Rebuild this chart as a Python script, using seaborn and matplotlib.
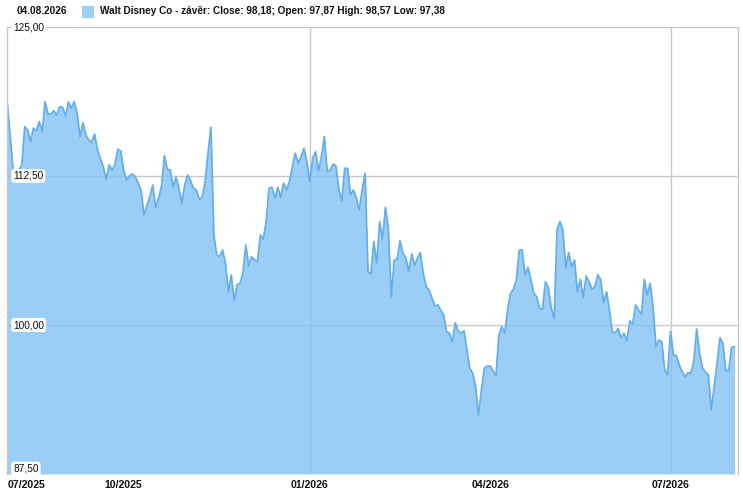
import matplotlib
matplotlib.use("Agg")
import matplotlib.pyplot as plt
import seaborn as sns
import pandas as pd
from matplotlib.patches import Rectangle

# ---- data (trading-day index, close) ----
day = [0, 2, 4, 5, 6, 7, 8, 9, 10, 11, 12, 13, 14, 15, 16, 17, 18, 19, 20, 21,
       22, 23, 24, 25, 26, 27, 28, 29, 30, 31, 33, 34, 35, 36, 37, 38, 39, 40, 41, 42,
       43, 44, 46, 47, 49, 50, 51, 52, 53, 54, 55, 56, 57, 58, 59, 60, 61, 62, 63, 64,
       65, 66, 67, 68, 69, 70, 71, 72, 73, 74, 75, 76, 77, 78, 79, 80, 81, 82, 83, 84,
       85, 86, 87, 88, 89, 90, 91, 92, 93, 94, 95, 96, 97, 98, 99, 100, 101, 102, 103, 104,
       105, 106, 107, 108, 109, 110, 111, 112, 113, 114, 115, 116, 117, 118, 119, 120, 121, 122, 123, 124,
       125, 126, 127, 128, 129, 130, 131, 132, 133, 134, 135, 136, 137, 138, 139, 140, 141, 142, 143, 144,
       145, 146, 147, 148, 149, 150, 151, 152, 153, 154, 155, 156, 157, 158, 159, 160, 161, 162, 163, 164,
       165, 166, 167, 168, 169, 170, 171, 172, 173, 174, 175, 176, 177, 178, 179, 180, 181, 182, 183, 184,
       185, 186, 187, 188, 189, 190, 191, 192, 193, 194, 195, 196, 197, 198, 199, 200, 201, 202, 203, 204,
       205, 206, 207, 208, 209, 210, 211, 212, 213, 214, 215, 216, 217, 218, 219, 220, 221, 222, 223, 224,
       225, 226, 227, 228, 229, 230, 231, 232, 233, 234, 235, 236, 237, 238, 239, 240, 241, 242, 243, 244,
       245, 246, 247, 248, 249, 250]
close = [118.60, 113.00, 113.00, 113.42, 116.64, 116.36, 115.38, 116.50, 116.30, 117.06,
         116.22, 118.73, 117.70, 117.70, 117.98, 117.62, 118.31, 118.26, 117.53, 118.71,
         118.18, 118.73, 117.76, 115.80, 116.97, 115.94, 115.52, 115.30, 116.02, 114.68,
         113.28, 112.22, 113.42, 113.00, 113.42, 114.74, 114.60, 113.00, 112.16, 112.50,
         112.67, 112.44, 111.33, 109.23, 110.76, 111.74, 109.87, 110.63, 111.60, 114.20,
         113.06, 113.00, 111.60, 112.39, 111.47, 110.21, 111.74, 112.58, 112.11, 111.47,
         111.33, 110.55, 110.71, 112.02, 114.40, 116.59, 107.55, 105.87, 105.73, 106.29,
         105.18, 102.79, 104.19, 102.04, 103.36, 103.50, 104.34, 106.71, 104.95, 105.73,
         105.45, 105.31, 107.55, 107.19, 108.67, 111.47, 111.55, 110.63, 111.55, 110.71,
         111.89, 111.33, 112.02, 113.28, 114.40, 113.56, 114.12, 114.82, 113.70, 112.02,
         113.98, 114.54, 112.92, 114.12, 115.80, 112.86, 113.00, 113.51, 113.34, 111.33,
         110.43, 113.15, 113.15, 110.91, 111.33, 110.63, 109.65, 111.33, 112.73, 104.47,
         104.28, 106.99, 105.18, 108.67, 107.19, 109.87, 108.11, 102.37, 105.45, 105.51,
         107.05, 106.02, 105.65, 104.47, 105.96, 105.03, 105.60, 106.07, 104.34, 103.22,
         102.94, 102.24, 101.59, 101.68, 101.26, 100.84, 99.44, 99.30, 98.60, 100.19,
         99.52, 99.30, 99.52, 97.90, 96.37, 95.95, 94.82, 92.45, 94.55, 96.37,
         96.56, 96.56, 96.14, 95.72, 99.16, 99.86, 99.30, 101.26, 102.66, 102.99,
         103.78, 106.29, 106.29, 104.19, 104.84, 103.78, 102.66, 102.37, 101.40, 101.32,
         103.63, 103.13, 101.40, 100.56, 108.00, 108.67, 107.97, 104.76, 106.07, 104.89,
         105.45, 102.79, 103.83, 102.32, 104.11, 103.63, 102.99, 103.21, 104.22, 103.78,
         101.87, 102.79, 101.26, 99.39, 99.35, 99.72, 98.91, 99.30, 98.68, 100.34,
         100.08, 101.68, 101.26, 100.90, 103.83, 102.52, 103.50, 101.54, 98.18, 98.74,
         98.60, 96.23, 95.81, 99.44, 97.48, 97.42, 96.64, 96.08, 95.66, 96.00,
         95.95, 96.92, 99.66, 97.63, 96.37, 96.08, 95.81, 92.87, 94.82, 96.79,
         98.94, 98.47, 96.17, 96.17, 98.13, 98.18]

month_ticks = [0, 40, 104, 166, 228]
month_labels = ["07/2025", "10/2025", "01/2026", "04/2026", "07/2026"]
grid_months = [104, 228]
y_ticks = [87.5, 100.0, 112.5, 125.0]

date_text = "04.08.2026"
legend_text = "Walt Disney Co - závěr: Close: 98,18; Open: 97,87 High: 98,57 Low: 97,38"

df = pd.DataFrame({"day": day, "close": close})

sns.set_theme(style="white")
plt.rcParams["font.family"] = ["Liberation Sans", "DejaVu Sans"]

FILL = "#82C2F4"
LEG_FILL = "#9BCEF6"
LINE = "#66AEEA"
GRID = "#C8C8C8"

fig = plt.figure(figsize=(7.43, 4.91), dpi=100)
ax = fig.add_axes([7 / 743, 17 / 491, 731 / 743, 447 / 491])

ax.fill_between(df["day"], df["close"], 87.5, color=FILL, alpha=0.8, lw=0, zorder=1)
sns.lineplot(data=df, x="day", y="close", ax=ax, color=LINE, lw=1.3, zorder=2)

ax.set_xlim(-0.1, 251.2)
ax.set_ylim(87.5, 125)
ax.set_xlabel("")
ax.set_ylabel("")

ax.set_yticks(y_ticks)
ax.set_yticklabels([])
ax.tick_params(axis="y", length=0)
for yv in y_ticks:
    ax.axhline(yv, color=GRID, lw=1, zorder=0.5)
for xv in grid_months:
    ax.axvline(xv, color=GRID, lw=1, zorder=0.5)

ax.set_xticks(month_ticks)
ax.set_xticklabels(month_labels, fontsize=7.6, fontweight="bold", color="#111111")
ax.tick_params(axis="x", length=0, pad=4)
lbls = ax.get_xticklabels()
lbls[0].set_horizontalalignment("left")

for s in ["top", "bottom"]:
    ax.spines[s].set_visible(False)
for s in ["left", "right"]:
    ax.spines[s].set_color(GRID)
    ax.spines[s].set_linewidth(1)

for yv in y_ticks:
    txt = f"{yv:.2f}".replace(".", ",")
    off = 0.45 if yv == 87.5 else 0.0
    ax.text(2.0, yv + off, txt, fontsize=7.3, color="#111111", ha="left", va="center",
            zorder=5, clip_on=False,
            bbox=dict(boxstyle="round,pad=0.2,rounding_size=0.3", fc="white", ec="none"))

fig.text(16.7 / 743, 1 - 11.5 / 491, date_text, fontsize=7.2, fontweight="bold",
         ha="left", va="center", color="#111111")
fig.patches.append(Rectangle((82 / 743, 1 - 18 / 491), 12 / 743, 12 / 491,
                             transform=fig.transFigure, fc=LEG_FILL, ec="none"))
fig.text(100 / 743, 1 - 11.5 / 491, legend_text, fontsize=7.2, fontweight="bold",
         ha="left", va="center", color="#111111")

fig.savefig("out.png", dpi=100)
